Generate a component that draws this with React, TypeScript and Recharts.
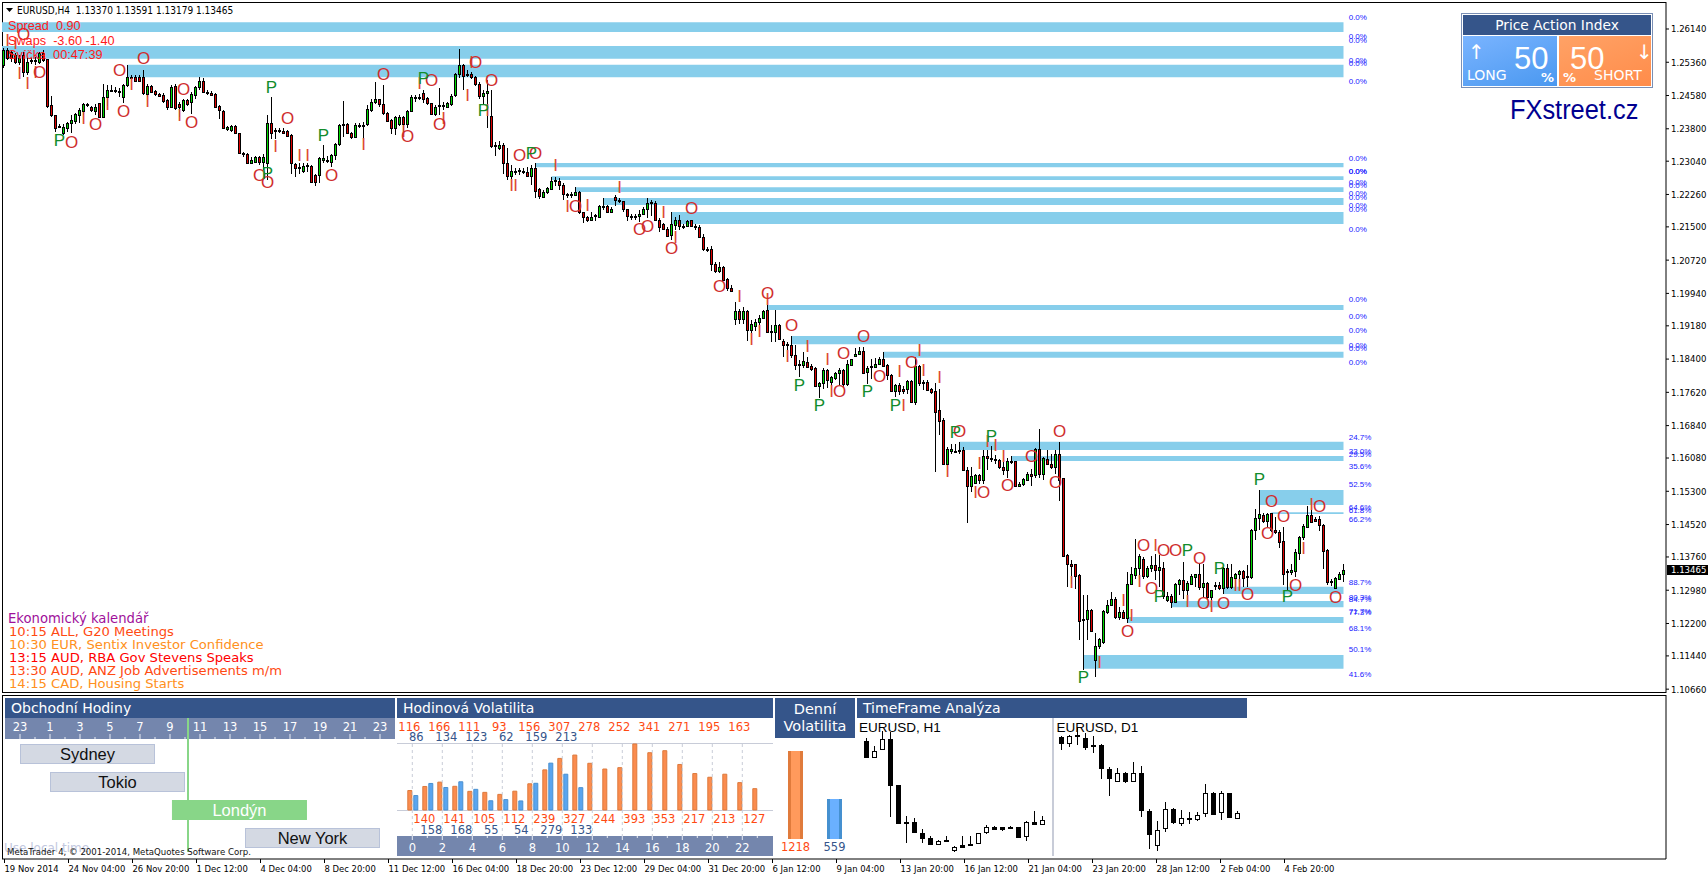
import {
  Bar,
  BarChart,
  ComposedChart,
  ReferenceArea,
  ReferenceLine,
  Scatter,
  XAxis,
  YAxis,
} from "recharts";

// EURUSD H4, prices in pips (1.2550 -> 12550), rows are [open, high, low, close]
const candlesNov = [
  [12530,12569,12522,12565],[12565,12569,12541,12547],[12561,12565,12537,12545],[12553,12557,12533,12537],
  [12537,12553,12530,12545],[12553,12561,12502,12514],[12514,12545,12506,12537],[12538,12547,12533,12541],
  [12541,12549,12530,12538],[12537,12561,12533,12557],[12557,12565,12537,12541],[12543,12544,12428,12433],
  [12436,12457,12408,12412],[12412,12412,12373,12383],[12385,12391,12381,12387],[12369,12391,12365,12385],
  [12381,12397,12373,12393],[12393,12412,12371,12400],[12399,12418,12391,12415],[12412,12428,12393,12424],
  [12422,12441,12412,12438],[12437,12440,12430,12435],[12430,12433,12420,12424],[12422,12438,12412,12430],
  [12440,12441,12407,12408],[12408,12485,12407,12455],[12455,12483,12433,12471],[12470,12483,12467,12471],
  [12471,12477,12465,12469],[12469,12475,12455,12467],[12455,12485,12440,12483],[12483,12530,12479,12501],
  [12500,12506,12496,12502],[12501,12506,12490,12493],[12501,12506,12490,12493],[12501,12519,12459,12463],
  [12461,12485,12455,12480],[12480,12483,12463,12467],[12468,12472,12457,12461],[12461,12465,12454,12457],
  [12459,12463,12441,12446],[12447,12451,12424,12430],[12432,12483,12428,12479],[12480,12485,12424,12428],
  [12438,12443,12408,12430],[12424,12451,12420,12447],[12447,12449,12433,12438],[12443,12467,12415,12461],
];
const candlesDec = [
  [12459,12480,12451,12477],[12477,12502,12472,12491],[12491,12498,12463,12467],[12467,12471,12459,12463],
  [12463,12469,12457,12459],[12461,12463,12430,12432],[12433,12436,12404,12424],[12422,12424,12379,12381],
  [12379,12387,12375,12385],[12377,12389,12373,12386],[12387,12389,12368,12369],[12369,12371,12321,12324],
  [12323,12326,12314,12321],[12322,12324,12297,12299],[12300,12313,12297,12307],[12303,12316,12299,12313],
  [12313,12316,12295,12301],[12301,12321,12283,12313],[12299,12412,12260,12393],[12393,12454,12357,12371],
  [12374,12383,12357,12376],[12375,12383,12369,12376],[12374,12381,12368,12371],[12374,12377,12360,12363],
  [12365,12368,12275,12299],[12297,12300,12268,12289],[12290,12299,12275,12289],[12280,12299,12277,12293],
  [12293,12300,12279,12295],[12293,12295,12253,12256],[12271,12275,12246,12256],[12271,12313,12253,12311],
  [12307,12342,12299,12311],[12304,12316,12299,12307],[12303,12321,12291,12318],[12318,12347,12307,12344],
  [12344,12391,12339,12388],[12389,12445,12361,12391],[12391,12393,12369,12371],[12369,12373,12357,12361],
  [12361,12394,12360,12388],[12387,12394,12381,12389],[12387,12397,12357,12389],[12391,12436,12386,12426],
  [12424,12449,12420,12443],[12443,12490,12438,12449],[12449,12451,12432,12438],[12438,12483,12412,12416],
  [12418,12420,12397,12399],[12400,12404,12368,12381],[12381,12410,12365,12407],[12391,12412,12386,12408],
  [12407,12410,12368,12391],[12391,12424,12381,12422],[12422,12459,12420,12454],[12452,12459,12443,12454],
  [12452,12461,12447,12454],[12463,12472,12440,12451],[12452,12455,12436,12440],[12440,12441,12412,12415],
  [12415,12436,12410,12432],[12433,12475,12412,12435],[12433,12443,12424,12435],[12430,12443,12428,12440],
  [12438,12461,12433,12458],[12459,12511,12454,12508],[12508,12566,12498,12530],[12530,12533,12472,12504],
  [12505,12518,12501,12508],[12508,12514,12496,12501],[12501,12504,12480,12485],[12485,12490,12451,12457],
  [12457,12471,12436,12465],[12465,12494,12383,12469],[12410,12471,12336,12339],[12340,12350,12316,12342],
  [12336,12351,12330,12342],[12342,12346,12275,12299],[12299,12334,12260,12270],[12270,12295,12262,12281],
  [12280,12287,12271,12282],[12281,12287,12271,12283],[12282,12287,12274,12279],[12279,12291,12267,12270],
  [12270,12295,12248,12289],[12289,12299,12217,12235],[12238,12240,12215,12223],[12221,12236,12217,12232],
  [12232,12244,12228,12240],[12239,12268,12236,12258],[12257,12266,12246,12259],[12257,12264,12236,12249],
  [12248,12252,12213,12226],[12228,12230,12217,12226],[12226,12232,12218,12228],[12225,12243,12222,12232],
  [12232,12233,12180,12184],[12184,12185,12160,12172],[12172,12175,12162,12166],[12167,12185,12166,12174],
  [12175,12180,12164,12177],[12174,12202,12172,12200],[12198,12217,12189,12200],[12200,12202,12182,12185],
  [12185,12196,12182,12191],[12219,12225,12199,12214],[12214,12217,12207,12210],[12210,12211,12185,12191],
  [12191,12193,12164,12175],[12175,12180,12166,12172],[12173,12180,12166,12175],[12176,12189,12162,12181],
  [12181,12196,12178,12191],[12191,12217,12170,12205],[12205,12213,12175,12208],[12207,12210,12166,12167],
  [12167,12170,12138,12150],[12156,12158,12144,12146],[12146,12149,12127,12129],[12130,12185,12120,12156],
  [12155,12172,12142,12167],[12166,12178,12142,12153],[12153,12156,12146,12150],[12152,12167,12149,12164],
  [12166,12167,12149,12152],[12149,12156,12142,12152],[12149,12154,12125,12127],[12127,12133,12094,12097],
  [12096,12103,12092,12097],[12099,12105,12047,12064],[12064,12067,12042,12047],[12047,12068,12041,12055],
  [12055,12058,12024,12025],[12027,12029,12000,12006],[12006,12013,11998,12000],[11933,11974,11919,11952],
  [11952,11958,11923,11933],[11933,11962,11923,11952],[11952,11955,11883,11909],[11909,11931,11900,11922],
];
const candlesJan = [
  [11917,11935,11906,11927],[11927,11943,11919,11937],[11937,11956,11933,11953],[11955,11966,11901,11904],
  [11903,11919,11880,11905],[11904,11955,11880,11919],[11919,11922,11884,11887],[11883,11886,11845,11872],
  [11874,11880,11861,11876],[11874,11894,11843,11849],[11849,11872,11814,11825],[11826,11837,11798,11828],
  [11826,11857,11818,11836],[11833,11845,11819,11822],[11824,11828,11812,11817],[11818,11822,11775,11776],
  [11776,11787,11749,11785],[11784,11818,11770,11814],[11814,11817,11773,11790],[11786,11800,11776,11797],
  [11795,11810,11790,11807],[11808,11818,11779,11814],[11814,11817,11773,11782],[11782,11839,11776,11828],
  [11827,11841,11825,11840],[11847,11867,11845,11853],[11851,11868,11849,11858],[11858,11868,11804,11808],
  [11810,11823,11782,11820],[11821,11841,11794,11823],[11822,11843,11818,11829],[11828,11845,11825,11841],
  [11841,11857,11822,11824],[11825,11828,11790,11803],[11803,11806,11763,11765],[11765,11782,11751,11780],
  [11780,11784,11755,11765],[11771,11776,11759,11765],[11771,11792,11757,11788],[11788,11790,11736,11739],
  [11739,11845,11732,11823],[11823,11826,11776,11784],[11784,11790,11768,11786],[11786,11790,11767,11768],
  [11771,11773,11759,11763],[11764,11783,11575,11716],[11720,11771,11661,11695],[11696,11703,11591,11595],
  [11595,11634,11591,11628],[11624,11642,11617,11628],[11622,11640,11620,11625],[11624,11646,11618,11626],
  [11626,11634,11579,11581],[11581,11586,11456,11542],[11542,11586,11528,11565],[11550,11571,11547,11568],
  [11568,11571,11548,11556],[11557,11626,11548,11612],[11612,11626,11579,11607],[11606,11636,11599,11607],
  [11605,11615,11593,11603],[11603,11605,11583,11586],[11586,11599,11568,11581],[11581,11608,11562,11600],
  [11599,11612,11595,11601],[11600,11601,11540,11543],[11543,11552,11539,11548],[11548,11561,11542,11558],
  [11557,11575,11554,11571],[11571,11583,11542,11567],[11568,11632,11562,11628],[11628,11677,11562,11571],
  [11571,11611,11557,11607],[11605,11626,11592,11595],[11595,11618,11583,11587],[11587,11626,11571,11618],
  [11618,11646,11507,11557],[11560,11562,11376,11378],[11380,11384,11306,11359],[11359,11368,11313,11355],
  [11359,11360,11302,11331],[11333,11335,11181,11227],[11228,11286,11112,11230],[11231,11286,11181,11252],
  [11252,11255,11200,11202],[11134,11198,11094,11167],[11167,11186,11160,11184],[11177,11251,11172,11249],
  [11247,11274,11243,11264],[11264,11294,11260,11277],[11277,11281,11231,11235],[11235,11259,11229,11247],
  [11247,11251,11231,11234],[11234,11341,11220,11313],[11313,11353,11310,11335],[11333,11419,11325,11349],
  [11349,11384,11325,11378],[11372,11376,11325,11331],[11331,11354,11327,11351],[11351,11378,11341,11358],
  [11358,11384,11321,11345],[11346,11380,11306,11353],[11351,11364,11278,11284],[11276,11294,11270,11284],
  [11285,11290,11257,11270],[11270,11315,11267,11312],[11312,11325,11286,11321],[11321,11364,11278,11298],
  [11298,11320,11276,11316],[11313,11337,11310,11331],[11329,11337,11306,11335],[11335,11360,11298,11306],
];
const candlesFeb = [
  [11306,11360,11282,11315],[11315,11317,11276,11282],[11282,11299,11274,11298],[11309,11317,11298,11311],
  [11311,11317,11299,11303],[11303,11353,11288,11349],[11349,11360,11302,11306],[11306,11360,11302,11329],
  [11327,11338,11306,11335],[11335,11346,11317,11343],[11343,11345,11306,11327],[11328,11357,11306,11331],
  [11329,11442,11325,11440],[11440,11489,11415,11468],[11468,11532,11440,11476],[11474,11478,11456,11460],
  [11460,11479,11446,11476],[11478,11479,11435,11440],[11440,11470,11431,11435],[11435,11439,11396,11411],
  [11414,11447,11311,11336],[11341,11347,11299,11344],[11340,11360,11334,11346],[11344,11394,11329,11387],
  [11386,11426,11369,11422],[11422,11454,11415,11449],[11447,11496,11446,11475],[11475,11485,11457,11459],
  [11465,11469,11457,11460],[11465,11472,11438,11451],[11451,11454,11347,11391],[11393,11394,11311,11318],
  [11318,11324,11308,11320],[11303,11329,11300,11326],[11325,11340,11322,11336],[11337,11359,11318,11346.5],
];

const priceTicks = [
  12614, 12536, 12458, 12380, 12304, 12226, 12150, 12072, 11994, 11918, 11840,
  11762, 11684, 11608, 11530, 11452, 11376, 11298, 11220, 11144, 11066,
];
const dateLabels = [
  "19 Nov 2014", "24 Nov 04:00", "26 Nov 20:00", "1 Dec 12:00", "4 Dec 04:00", "8 Dec 20:00", "11 Dec 12:00",
  "16 Dec 04:00", "18 Dec 20:00", "23 Dec 12:00", "29 Dec 04:00", "31 Dec 20:00", "6 Jan 12:00", "9 Jan 04:00",
  "13 Jan 20:00", "16 Jan 12:00", "21 Jan 04:00", "23 Jan 20:00", "28 Jan 12:00", "2 Feb 04:00", "4 Feb 20:00",
];

// supply / demand zones: [first candle, upper price, lower price]
const zonesTop = [[0,12630,12607],[0,12574,12544],[31,12530,12501]];
const zonesMid = [[133,12300,12290],[137,12269,12260],[143,12243,12232],[150,12218,12201],[167,12185,12157]];
const zonesLow = [[191,11967,11955],[197,11894,11875],[220,11857,11843],[239,11646,11627],[252,11613,11601]];
const zonesEnd = [[314,11533,11498],[317,11481,11477],[305,11306,11289],[292,11273,11258],[281,11235,11221],[270,11146,11114]];

const zonePctZero = [
  12642,12596,12587,12541,12532,12490,12311,12281,12279,12255,12246,12229,12220,12199,12190,12145,
  11980,11941,11906,11871,11864,11832,
];
const zonePctOther = [
  [11657,"24.7%"],[11624,"33.0%"],[11617,"29.5%"],[11589,"35.6%"],[11545,"52.5%"],[11493,"64.6%"],[11486,"61.8%"],
  [11465,"66.2%"],[11317,"88.7%"],[11282,"80.3%"],[11277,"84.7%"],[11247,"71.7%"],[11246,"77.3%"],[11209,"68.1%"],
  [11158,"50.1%"],[11101,"41.6%"],
];

// price action signals: [candle, price]
const signalsO = [
  [5,12600],[9,12512],[29,12516],[35,12545],[30,12420],[23,12390],[17,12348],[45,12472],[47,12395],[71,12404],
  [64,12271],[66,12254],[82,12270],[95,12508],[101,12361],[107,12494],[109,12391],[118,12536],[122,12494],[129,12318],
  [133,12323],[143,12197],[159,12143],[161,12150],[167,12100],[172,12192],[179,12011],[191,11993],[197,11918],[215,11892],[210,11852],
  [209,11763],[219,11800],[227,11833],[239,11671],[245,11528],[251,11543],[257,11611],[264,11671],[263,11551],[281,11201],
  [285,11404],[290,11390],[293,11390],[299,11373],[287,11303],[300,11268],[305,11268],[311,11289],[317,11505],[316,11432],
  [320,11470],[329,11495],[323,11308],[333,11280],
];
const signalsI = [
  [1,12588],[3,12580],[4,12510],[6,12487],[8,12512],[32,12483],[26,12436],[20,12403],[36,12443],[44,12410],
  [68,12338],[74,12318],[76,12318],[90,12342],[100,12373],[104,12487],[110,12404],[117,12536],[116,12459],[121,12422],
  [127,12246],[128,12248],[138,12293],[154,12242],[141,12197],[146,12200],[165,12183],[168,12124],[184,11986],[201,11869],
  [196,11845],[187,11887],[189,11904],[191,11979],[206,11838],[207,11763],[224,11810],[229,11861],[230,11814],[234,11796],
  [225,11732],[244,11596],[236,11576],[243,11528],[246,11646],[248,11638],[250,11611],[267,11316],[280,11275],[282,11238],
  [284,11318],[288,11404],[296,11271],[302,11259],[308,11308],[309,11308],[327,11498],[325,11395],[274,11128],
];
const signalsP = [
  [14,12352],[67,12477],[66,12275],[80,12365],[105,12498],[120,12422],[132,12323],[199,11779],[204,11731],[216,11763],
  [223,11732],[238,11669],[247,11658],[296,11390],[289,11284],[304,11348],[314,11558],[321,11283],[270,11094],
];

const calendarTitle = "Ekonomický kalendář";
const calendarLines = [
  "10:15 ALL, G20 Meetings",
  "10:30 EUR, Sentix Investor Confidence",
  "13:15 AUD, RBA Gov Stevens Speaks",
  "13:30 AUD, ANZ Job Advertisements m/m",
  "14:15 CAD, Housing Starts",
];
const calendarColors = ["#ff4a12", "#ff9020", "#ff0000", "#ff4a12", "#ff9020"];

// trading hours panel
const sessionNames = ["Sydney", "Tokio", "Londýn", "New York"];
const sessionStart = [0, 2, 10.13, 15];
const sessionEnd = [9, 11, 19.13, 24];
const rulerHours = [23, 0, 1, 2, 3, 4, 5, 6, 7, 8, 9, 10, 11, 12, 13, 14, 15, 16, 17, 18, 19, 20, 21, 22, 23];
const nowHour = 11.2;

// hourly / daily volatility
const hourlyLong = [116,140,166,141,111,105,93,112,156,239,307,327,278,244,252,393,341,353,271,217,195,213,163,127];
const hourlyShort = [86,158,134,168,123,55,62,54,159,279,213,133];
const dailyVolatility = [1218, 559];

// timeframe panels have no price scale, prices here are relative. [open, high, low, close]
const h1Candles = [
  [877,885,828,830],[828,862,826,848],[854,908,852,882],[883,905,650,746],[745,745,630,632],[633,652,572,630],
  [633,647,602,605],[600,612,570,587],[586,592,565,569],[569,580,566,576],[580,592,574,576],[550,562,544,560],
  [564,592,559,560],[567,592,563,564],[570,602,569,600],[605,625,598,618],[619,622,610,614],[618,620,608,614],
  [619,622,613,615],[618,620,587,590],[591,637,578,633],[633,667,624,627],[627,652,625,640],
];
const d1Candles = [
  [889,892,850,872],[872,895,858,891],[895,915,865,891],[886,900,850,860],[865,892,842,861],[865,868,764,797],
  [793,800,712,767],[758,795,755,780],[781,785,752,757],[758,815,753,780],[780,802,650,671],[666,672,554,599],
  [564,637,548,609],[615,694,605,674],[673,676,628,635],[632,670,622,645],[646,665,628,642],[644,665,638,655],
  [660,748,648,720],[720,723,655,659],[663,728,641,720],[720,722,647,650],[645,667,643,660],
];

const toCandles = (rows: number[][]) =>
  rows.map((r, i) => ({ i, open: r[0], high: r[1], low: r[2], close: r[3], range: [r[2], r[1]] }));

const mainCandles = toCandles([...candlesNov, ...candlesDec, ...candlesJan, ...candlesFeb]);
const lastIndex = mainCandles.length - 1;
const allZones = [...zonesTop, ...zonesMid, ...zonesLow, ...zonesEnd];
const toSignals = (rows: number[][]) => rows.map((r) => ({ i: r[0], price: r[1] }));
const pctRows = [
  ...zonePctZero.map((p) => ({ i: 336.3, price: p, text: "0.0%" })),
  ...zonePctOther.map((r) => ({ i: 336.3, price: r[0] as number, text: r[1] as string })),
];
const hourlyRows = hourlyLong.map((v, h) => ({ hour: h, long: v, short: hourlyShort[h] ?? null }));
const sessionRows = sessionNames.map((name, k) => ({ name, span: [sessionStart[k], sessionEnd[k]] }));
const dailyRows = dailyVolatility.map((v, k) => ({ name: String(k), v }));
const dateRows = dateLabels.map((label, k) => ({ i: k * 16, label }));

const NAVY = "#35558a";
const RULER = "#7486ad";
const GRID = "#c8ccd8";
const TAHOMA = "'Liberation Sans', sans-serif";
const VERDANA = "'DejaVu Sans', sans-serif";
const AXISFONT = "'DejaVu Sans Condensed', 'Liberation Sans', sans-serif";

function CandleShape(props: any) {
  const { x, y, width, height, payload, bodyW, up, down } = props;
  const span = payload.high - payload.low || 1;
  const yOf = (p: number) => y + ((payload.high - p) / span) * height;
  const cx = Math.floor(x + width / 2) + 0.5;
  const top = Math.round(yOf(Math.max(payload.open, payload.close))) + 0.5;
  const bot = Math.round(yOf(Math.min(payload.open, payload.close))) + 0.5;
  const isUp = payload.close >= payload.open;
  return (
    <g shapeRendering="crispEdges">
      <line x1={cx} x2={cx} y1={y} y2={y + height} stroke="#000" strokeWidth={1} />
      <rect
        x={cx - bodyW / 2}
        y={top}
        width={bodyW}
        height={Math.max(bot - top, 1)}
        fill={isUp ? up : down}
        stroke="#000"
        strokeWidth={1}
      />
    </g>
  );
}

const letterShape = (letter: string, color: string) => (props: any) => (
  <text
    x={props.cx}
    y={props.cy}
    textAnchor="middle"
    dominantBaseline="central"
    fontFamily={TAHOMA}
    fontSize={17}
    fill={color}
  >
    {letter}
  </text>
);

const PctLabel = (props: any) => (
  <text
    x={props.cx}
    y={props.cy}
    dominantBaseline="central"
    fontFamily={TAHOMA}
    fontSize={8}
    fill="#2020ff"
  >
    {props.payload.text}
  </text>
);

function MainChart() {
  return (
    <ComposedChart
      width={1708}
      height={693}
      data={mainCandles}
      margin={{ top: 2, right: 0, bottom: 0, left: 2 }}
      style={{ position: "absolute", left: 0, top: 0 }}
    >
      <XAxis type="number" dataKey="i" domain={[-0.375, 415.625]} hide allowDataOverflow />
      <YAxis
        orientation="right"
        type="number"
        width={42}
        domain={[11057, 12677.3]}
        ticks={priceTicks}
        interval={0}
        tickSize={3}
        tickMargin={2}
        allowDataOverflow
        stroke="#000"
        tick={{ fontSize: 9.5, fontFamily: AXISFONT, fill: "#000" }}
        tickFormatter={(v) => (v / 10000).toFixed(5)}
      />
      {allZones.map((z, k) => (
        <ReferenceArea
          key={k}
          x1={z[0] === 0 ? -0.375 : z[0]}
          x2={lastIndex}
          y1={z[2]}
          y2={z[1]}
          fill="#87ceeb"
          fillOpacity={1}
          stroke="none"
          ifOverflow="visible"
        />
      ))}
      <Bar
        dataKey="range"
        barSize={3}
        isAnimationActive={false}
        shape={<CandleShape bodyW={2} up="#00d800" down="#dd0000" />}
      />
      <Scatter data={toSignals(signalsI)} dataKey="price" isAnimationActive={false} shape={letterShape("I", "#dd4a30")} />
      <Scatter data={toSignals(signalsO)} dataKey="price" isAnimationActive={false} shape={letterShape("O", "#cf2d2d")} />
      <Scatter data={toSignals(signalsP)} dataKey="price" isAnimationActive={false} shape={letterShape("P", "#128c2c")} />
      <Scatter data={pctRows} dataKey="price" isAnimationActive={false} shape={PctLabel} />
    </ComposedChart>
  );
}

// empty indicator window below the prices, it also owns the date axis
function SubWindow() {
  const DateTick = ({ x, payload }: any) => (
    <g>
      <line x1={x + 1} x2={x + 1} y1={164} y2={168} stroke="#000" />
      <text x={x + 1} y={173} dominantBaseline="central" fontFamily={AXISFONT} fontSize={9.4} fill="#000">
        {dateRows[payload.value / 16].label}
      </text>
    </g>
  );
  return (
    <ComposedChart
      width={1708}
      height={182}
      data={dateRows}
      margin={{ top: 0, right: 0, bottom: 0, left: 2 }}
      style={{ position: "absolute", left: 0, top: 695 }}
    >
      <XAxis
        type="number"
        dataKey="i"
        domain={[-0.375, 415.625]}
        ticks={dateRows.map((d) => d.i)}
        interval={0}
        height={18}
        stroke="#000"
        tickLine={false}
        tick={DateTick}
      />
      <YAxis
        orientation="right"
        type="number"
        width={42}
        domain={[0.9533, 2.0467]}
        ticks={[1, 2]}
        interval={0}
        tickSize={3}
        tickMargin={2}
        stroke="#000"
        tick={{ fontSize: 9.5, fontFamily: AXISFONT, fill: "#000" }}
      />
    </ComposedChart>
  );
}

function SessionBar(props: any) {
  const { x, y, width, height, payload } = props;
  const isLondon = payload.name === "Londýn";
  return (
    <g>
      <rect
        x={x + 0.5}
        y={y + 0.5}
        width={width - 1}
        height={height - 1}
        fill={isLondon ? "#88d688" : "#d4d9e3"}
        stroke={isLondon ? "#88d688" : "#b8c2d9"}
      />
      <text
        x={x + width / 2}
        y={y + height / 2}
        textAnchor="middle"
        dominantBaseline="central"
        fontFamily={TAHOMA}
        fontSize={16.5}
        fill={isLondon ? "#fff" : "#111"}
      >
        {payload.name}
      </text>
    </g>
  );
}

function SessionChart() {
  const RulerTick = ({ x, payload }: any) => {
    const major = payload.value % 2 === 0;
    return (
      <g>
        <line x1={x} x2={x} y1={major ? 16 : 19} y2={21} stroke="#e8ebf2" />
        {major && (
          <text x={x} y={9} textAnchor="middle" dominantBaseline="central" fontFamily={VERDANA} fontSize={11.5} fill="#fff">
            {rulerHours[payload.value]}
          </text>
        )}
      </g>
    );
  };
  return (
    <BarChart
      layout="vertical"
      width={390}
      height={134}
      data={sessionRows}
      margin={{ top: 0, right: 0, bottom: 0, left: 0 }}
      style={{ position: "absolute", left: 5, top: 718 }}
    >
      <XAxis
        type="number"
        orientation="top"
        domain={[-1, 25]}
        ticks={rulerHours.map((_, k) => k)}
        interval={0}
        height={22}
        axisLine={false}
        tickLine={false}
        tick={RulerTick}
      />
      <YAxis type="category" dataKey="name" hide />
      <ReferenceLine x={nowHour} stroke="#88d688" strokeWidth={2} />
      <Bar dataKey="span" barSize={20} isAnimationActive={false} shape={SessionBar} />
    </BarChart>
  );
}

function HourlyChart() {
  const rowText = (x: number, y: number, value: any, fill: string) =>
    value == null ? null : (
      <text x={x} y={y} textAnchor="middle" dominantBaseline="central" fontFamily={VERDANA} fontSize={11.5} fill={fill}>
        {value}
      </text>
    );
  const HourTick = ({ x, payload }: any) => {
    const h = payload.value;
    const even = h % 2 === 0;
    return (
      <g>
        {even && <line x1={x} x2={x} y1={26} y2={118} stroke={GRID} strokeDasharray="3 3" />}
        {rowText(x - 3, even ? 9 : 101, hourlyLong[h], "#ff4a12")}
        {rowText(x + 4, even ? 19 : 112, hourlyShort[h], NAVY)}
        <line x1={x} x2={x} y1={118} y2={even ? 122 : 120} stroke="#e8ebf2" />
        {even && (
          <text x={x} y={130} textAnchor="middle" dominantBaseline="central" fontFamily={VERDANA} fontSize={11.5} fill="#fff">
            {h}
          </text>
        )}
      </g>
    );
  };
  return (
    <BarChart
      width={376}
      height={138}
      data={hourlyRows}
      barSize={4}
      barGap={2}
      margin={{ top: 25.3, right: 8.2, bottom: 0, left: 7.8 }}
      style={{ position: "absolute", left: 397, top: 718, overflow: "visible" }}
    >
      <XAxis dataKey="hour" interval={0} height={46} axisLine={false} tickLine={false} tick={HourTick} />
      <YAxis hide domain={[0, 397]} />
      <Bar dataKey="long" fill="#fb8c4e" stroke="#dd7a3c" isAnimationActive={false} />
      <Bar dataKey="short" fill="#5aa5f0" stroke="#4a90d0" isAnimationActive={false} />
    </BarChart>
  );
}

function DailyBar(props: any) {
  const { x, y, width, height, index } = props;
  return (
    <g shapeRendering="crispEdges">
      <rect x={x} y={y} width={width} height={height} fill={index === 0 ? "#e07b3c" : "#4590d0"} />
      <rect x={x + 3} y={y} width={width - 6} height={height} fill={index === 0 ? "#ff9a5c" : "#6ab0ff"} />
    </g>
  );
}

function DailyChart() {
  const ValueTick = ({ x, payload }: any) => {
    const k = Number(payload.value);
    return (
      <text x={x} y={96.3} textAnchor="middle" dominantBaseline="central" fontFamily={VERDANA} fontSize={11.5} fill={k === 0 ? "#ff4a12" : NAVY}>
        {dailyVolatility[k]}
      </text>
    );
  };
  return (
    <BarChart
      width={78}
      height={106.3}
      data={dailyRows}
      barSize={15}
      margin={{ top: 0, right: 0, bottom: 0, left: 0 }}
      style={{ position: "absolute", left: 776, top: 750.7 }}
    >
      <XAxis dataKey="name" interval={0} height={18} axisLine={false} tickLine={false} tick={ValueTick} />
      <YAxis hide domain={[0, 1218]} />
      <Bar dataKey="v" isAnimationActive={false} shape={DailyBar} />
    </BarChart>
  );
}

function MiniCandles({ rows, left, width, xDomain }: { rows: number[][]; left: number; width: number; xDomain: number[] }) {
  return (
    <ComposedChart
      width={width}
      height={138}
      data={toCandles(rows)}
      margin={{ top: 0, right: 0, bottom: 0, left: 0 }}
      style={{ position: "absolute", left, top: 718 }}
    >
      <XAxis type="number" dataKey="i" domain={xDomain} hide allowDataOverflow />
      <YAxis hide domain={[532, 946]} allowDataOverflow />
      <Bar
        dataKey="range"
        barSize={5}
        isAnimationActive={false}
        shape={<CandleShape bodyW={4} up="#fff" down="#000" />}
      />
    </ComposedChart>
  );
}

const abs = (left: number, top: number, width: number, height: number, extra: any = {}) => ({
  position: "absolute" as const,
  left,
  top,
  width,
  height,
  ...extra,
});

const Header = ({ x, w, h = 20, text }: { x: number; w: number; h?: number; text: string }) => (
  <div
    style={abs(x, 698, w, h, {
      background: NAVY,
      color: "#fff",
      fontFamily: VERDANA,
      fontSize: 14,
      lineHeight: `${h}px`,
      paddingLeft: 6,
      boxSizing: "border-box",
      whiteSpace: "nowrap",
    })}
  >
    {text}
  </div>
);

const Txt = ({ x, y, size, color, font = VERDANA, children, extra }: any) => (
  <div
    style={{
      position: "absolute",
      left: x,
      top: y,
      fontSize: size,
      color,
      fontFamily: font,
      lineHeight: 1,
      whiteSpace: "pre",
      transform: "translateY(-50%)",
      ...extra,
    }}
  >
    {children}
  </div>
);

function PriceActionBox() {
  return (
    <>
      <div style={abs(1461, 13, 192, 75, { background: "#fff", border: "1px solid #7a8fb5", boxSizing: "border-box" })} />
      <div style={abs(1463, 15, 188, 20, { background: NAVY, color: "#fff", fontFamily: VERDANA, fontSize: 13.8, lineHeight: "20px", textAlign: "center" })}>
        Price Action Index
      </div>
      <div style={abs(1463, 36, 94, 50, { background: "linear-gradient(160deg,#7ab4ff,#4a98f0)" })} />
      <div style={abs(1559, 36, 92, 50, { background: "linear-gradient(160deg,#ffa266,#ff8c4a)" })} />
      <Txt x={1468} y={52} size={20} color="#fff">↑</Txt>
      <Txt x={1467} y={75} size={14} color="#fff">LONG</Txt>
      <Txt x={1514} y={58} size={31} color="#fff" font={TAHOMA}>50</Txt>
      <Txt x={1541} y={77} size={13} color="#fff" extra={{ fontWeight: "bold" }}>%</Txt>
      <Txt x={1563} y={77} size={13} color="#fff" extra={{ fontWeight: "bold" }}>%</Txt>
      <Txt x={1570} y={58} size={31} color="#fff" font={TAHOMA}>50</Txt>
      <Txt x={1594} y={75} size={14} color="#fff">SHORT</Txt>
      <Txt x={1636} y={52} size={20} color="#fff">↓</Txt>
      <Txt
        x={1510}
        y={110}
        size={27}
        color="#000090"
        font={TAHOMA}
        extra={{ transform: "translateY(-50%) scaleX(0.94)", transformOrigin: "left center" }}
      >
        FXstreet.cz
      </Txt>
    </>
  );
}

export default function App() {
  return (
    <div style={abs(0, 0, 1708, 877, { background: "#fff", overflow: "hidden" })}>
      {/* window frames */}
      <div style={abs(2, 2, 1664, 691, { borderTop: "1px solid #000", borderLeft: "1px solid #000", borderBottom: "1px solid #000", boxSizing: "border-box" })} />
      <div style={abs(2, 695, 1664, 164, { borderTop: "1px solid #000", borderLeft: "1px solid #000", boxSizing: "border-box" })} />

      <SubWindow />
      <MainChart />

      {/* chart header and info lines */}
      <svg style={abs(6, 8, 10, 6)}>
        <polygon points="0,0 7,0 3.5,4" fill="#000" />
      </svg>
      <Txt x={17} y={10.5} size={10} color="#000" font={AXISFONT}>EURUSD,H4  1.13370 1.13591 1.13179 1.13465</Txt>
      <Txt x={8} y={26} size={12.7} color="#ff1a1a" font={TAHOMA}>Spread  0.90</Txt>
      <Txt x={8} y={41} size={12.7} color="#ff1a1a" font={TAHOMA}>Swaps  -3.60 -1.40</Txt>
      <Txt x={8} y={55} size={12.7} color="#ff1a1a" font={TAHOMA}>Svíčka  00:47:39</Txt>

      <PriceActionBox />

      {/* last price tag */}
      <div style={abs(1667, 565, 41, 10, { background: "#000", color: "#fff", fontFamily: AXISFONT, fontSize: 9.5, lineHeight: "10px", paddingLeft: 4, boxSizing: "border-box" })}>
        1.13465
      </div>

      <Txt x={8} y={619} size={13.2} color="#a0109a">{calendarTitle}</Txt>
      {calendarLines.map((line, k) => (
        <Txt key={k} x={9} y={632 + k * 13} size={13.15} color={calendarColors[k]}>{line}</Txt>
      ))}

      {/* bottom panels */}
      <Header x={5} w={390} text="Obchodní Hodiny" />
      <div style={abs(5, 718, 390, 21, { background: RULER })} />
      <SessionChart />
      <div style={abs(187, 718, 2, 22, { background: "#88d688" })} />
      <Txt x={4} y={848} size={12} color="#c2c8e0">Use local time</Txt>
      <Txt x={7} y={852} size={8.6} color="#111" font={VERDANA}>MetaTrader 4, © 2001-2014, MetaQuotes Software Corp.</Txt>

      <Header x={397} w={376} text="Hodinová Volatilita" />
      <div style={abs(397, 743, 376, 1, { background: GRID })} />
      <div style={abs(397, 810, 376, 1, { background: GRID })} />
      <div style={abs(397, 836, 376, 20, { background: RULER })} />
      <HourlyChart />

      <div style={abs(775, 698, 80, 40, { background: NAVY, color: "#fff", fontFamily: VERDANA, fontSize: 14.5, lineHeight: "17px", textAlign: "center", paddingTop: 3, boxSizing: "border-box" })}>
        Denní<br />Volatilita
      </div>
      <DailyChart />

      <Header x={857} w={390} text="TimeFrame Analýza" />
      <div style={abs(1052, 718, 2, 138, { background: GRID })} />
      <Txt x={859} y={728} size={13.5} color="#000" font={TAHOMA}>EURUSD, H1</Txt>
      <Txt x={1056.5} y={728} size={13.5} color="#000" font={TAHOMA}>EURUSD, D1</Txt>
      <MiniCandles rows={h1Candles} left={857} width={195} xDomain={[-1.16, 23.2]} />
      <MiniCandles rows={d1Candles} left={1054} width={193} xDomain={[-0.91, 23.2]} />
    </div>
  );
}
